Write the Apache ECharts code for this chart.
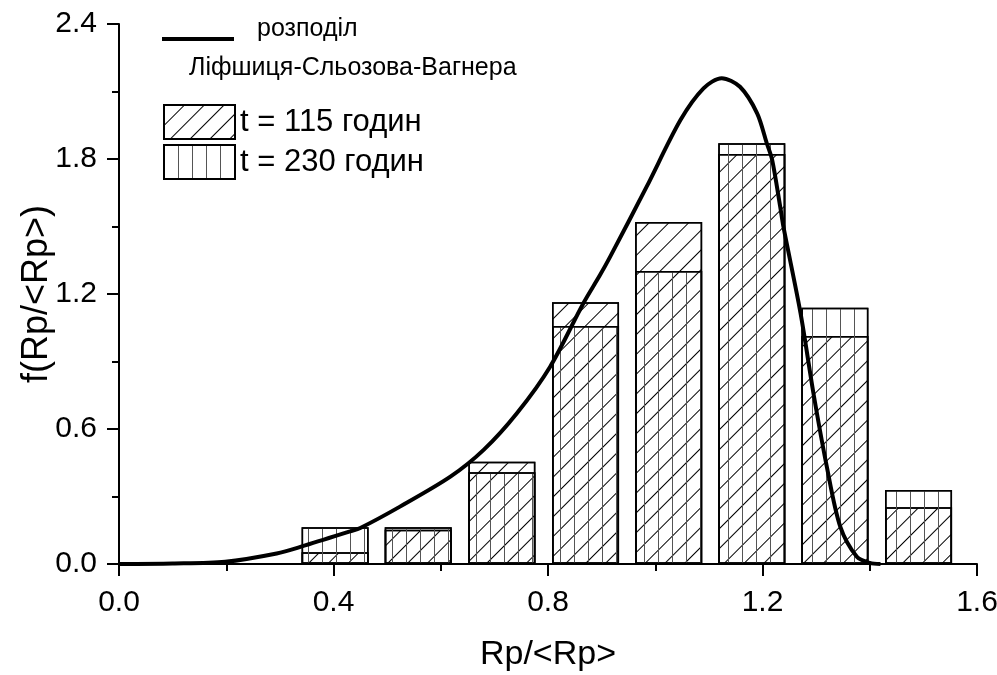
<!doctype html>
<html lang="uk">
<head>
<meta charset="utf-8">
<title>f(Rp/&lt;Rp&gt;)</title>
<script src="https://cdn.jsdelivr.net/npm/echarts@6/dist/echarts.min.js"></script>
<style>
  html, body { margin: 0; padding: 0; background: #fff; }
  #main { width: 997px; height: 675px; }
</style>
</head>
<body>
<div id="main"></div>
<script type="text/javascript">
// bin centres, Rp/<Rp>
var binCenters = [0.403, 0.558, 0.714, 0.870, 1.025, 1.180, 1.335, 1.491];
// t = 115 годин
var h115 = [0.052, 0.152, 0.455, 1.163, 1.520, 1.822, 1.013, 0.252];
// t = 230 годин
var h230 = [0.163, 0.163, 0.408, 1.058, 1.302, 1.870, 1.139, 0.329];

// LSW curve
var lswX = [0.00, 0.10, 0.198, 0.294, 0.341, 0.431, 0.45, 0.524, 0.618, 0.680, 0.742, 0.804, 0.866, 0.897, 0.916, 0.984,
            1.047, 1.090, 1.124, 1.158, 1.190, 1.208, 1.218, 1.233, 1.239, 1.271, 1.295, 1.320, 1.345, 1.376, 1.40, 1.42];
var lswY = [0.000, 0.002, 0.010, 0.047, 0.078, 0.145, 0.160, 0.255, 0.388, 0.507, 0.670, 0.877, 1.159, 1.284, 1.366, 1.677,
            1.973, 2.114, 2.159, 2.121, 2.003, 1.870, 1.796, 1.588, 1.499, 1.114, 0.759, 0.432, 0.166, 0.032, 0.005, 0.000];

var FONT = 'Liberation Sans, Arial, sans-serif';

function pairs(xs, ys) {
    return xs.map(function (x, i) { return [x, ys[i]]; });
}

var decalDiag = {
    symbol: 'rect',
    symbolSize: 1,
    dashArrayX: [1, 12.5],
    dashArrayY: [4, 0],
    rotation: Math.PI / 4,
    color: '#000'
};
var decalVert = {
    symbol: 'rect',
    symbolSize: 1,
    dashArrayX: [1, 12.4],
    dashArrayY: [4, 0],
    rotation: 0,
    color: '#555'
};

var chart = echarts.init(document.getElementById('main'), null, { renderer: 'canvas' });

var option = {
    animation: false,
    backgroundColor: '#fff',
    textStyle: { fontFamily: FONT, color: '#000' },
    grid: { left: 119, right: 20, top: 24, bottom: 111, outerBoundsMode: 'none', containLabel: false },
    legend: [{
        data: [{ name: 'розподіл', icon: 'rect' }],
        left: 157, top: 32,
        itemWidth: 72, itemHeight: 4,
        formatter: function () { return ''; },
        textStyle: { fontSize: 1 }
    }, {
        data: ['t = 115 годин', 't = 230 годин'],
        orient: 'vertical',
        left: 158, top: 99,
        itemWidth: 71, itemHeight: 34, itemGap: 4,
        icon: 'rect',
        textStyle: { fontSize: 31, color: '#000' }
    }],
    graphic: [{
        type: 'text',
        left: 257, top: 17,
        style: { text: 'розподіл', font: '25px ' + FONT, fill: '#000' }
    }, {
        type: 'text',
        left: 189, top: 56,
        style: { text: 'Ліфшиця-Сльозова-Вагнера', font: '25px ' + FONT, fill: '#000' }
    }],
    xAxis: {
        type: 'value',
        min: 0, max: 1.6, interval: 0.4,
        name: 'Rp/<Rp>',
        nameLocation: 'middle',
        nameGap: 74,
        nameMoveOverlap: false,
        nameTextStyle: { fontSize: 34, color: '#000' },
        axisLine: { onZero: false, lineStyle: { color: '#000', width: 2 } },
        axisTick: { inside: false, length: 12, lineStyle: { color: '#000', width: 2 } },
        minorTick: { show: true, splitNumber: 2, length: 7, lineStyle: { color: '#000', width: 2 } },
        axisLabel: { fontSize: 30, color: '#000', margin: 24, formatter: function (v) { return v.toFixed(1); } },
        splitLine: { show: false }
    },
    yAxis: {
        type: 'value',
        min: 0, max: 2.4, interval: 0.6,
        name: 'f(Rp/<Rp>)',
        nameLocation: 'middle',
        nameGap: 64,
        nameMoveOverlap: false,
        nameTextStyle: { fontSize: 36, color: '#000' },
        axisLine: { show: true, lineStyle: { color: '#000', width: 2 } },
        axisTick: { show: true, inside: false, length: 12, lineStyle: { color: '#000', width: 2 } },
        minorTick: { show: true, splitNumber: 2, length: 7, lineStyle: { color: '#000', width: 2 } },
        axisLabel: { fontSize: 30, color: '#000', margin: 22, formatter: function (v) { return v.toFixed(1); } },
        splitLine: { show: false }
    },
    series: [{
        name: 't = 115 годин',
        type: 'bar',
        barWidth: 67,
        barGap: '-100%',
        data: pairs(binCenters, h115),
        itemStyle: { color: 'rgba(255,255,255,0)', borderColor: '#000', borderWidth: 1.5, decal: decalDiag },
        z: 2
    }, {
        name: 't = 230 годин',
        type: 'bar',
        barWidth: 67,
        barGap: '-100%',
        data: pairs(binCenters, h230),
        itemStyle: { color: 'rgba(255,255,255,0)', borderColor: '#000', borderWidth: 1.5, decal: decalVert },
        z: 2
    }, {
        name: 'розподіл',
        type: 'line',
        smooth: 0.3,
        showSymbol: false,
        data: pairs(lswX, lswY),
        lineStyle: { color: '#000', width: 4 },
        itemStyle: { color: '#000' },
        z: 5
    }]
};

chart.setOption(option);
</script>
</body>
</html>
